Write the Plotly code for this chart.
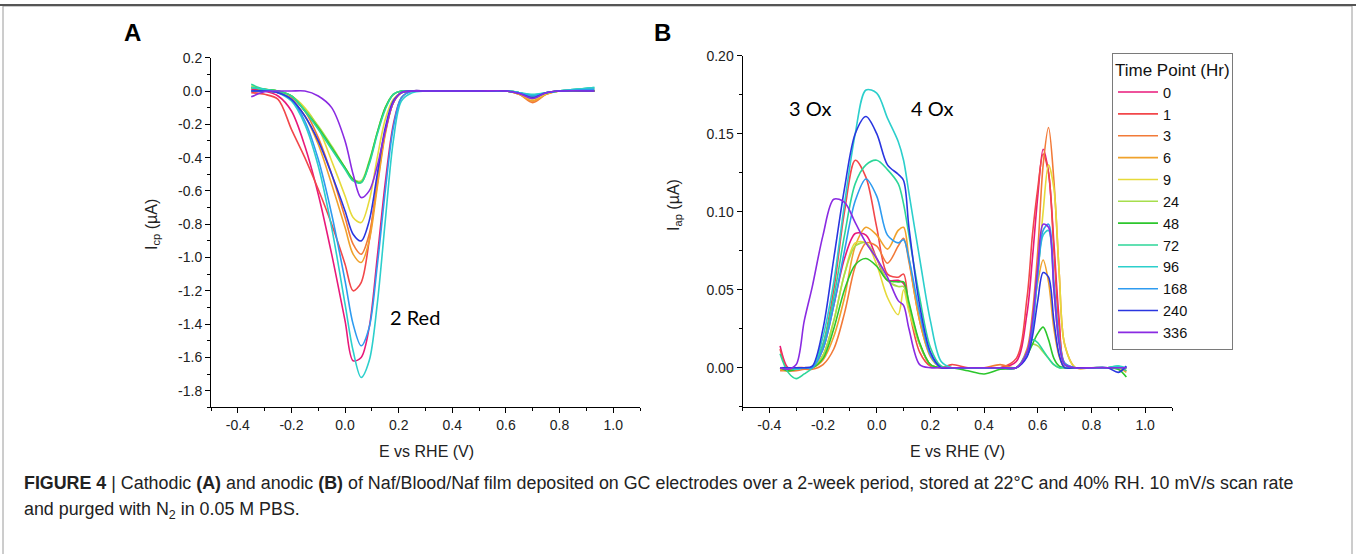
import plotly.graph_objects as go

W, H = 1356, 554

# ---------------- data ----------------
time_points = ["0", "1", "3", "6", "9", "24", "48", "72", "96", "168", "240", "336"]
colors = ["#E8197A", "#F2474A", "#F27A38", "#F0A22C", "#E6DA3A", "#A6DE4C",
          "#2CC62C", "#2CD699", "#2CCFCC", "#2E9BF0", "#2A36E0", "#8A2BE2"]

# Panel A (cathodic)
xa = [-0.35, -0.3, -0.25, -0.2, -0.15, -0.1, -0.05, 0.0, 0.03, 0.06, 0.09, 0.12,
      0.15, 0.18, 0.21, 0.25, 0.3, 0.4, 0.5, 0.6, 0.65, 0.7, 0.75, 0.8, 0.93]
a_0 = [0.01, 0.0, -0.03, -0.12, -0.33, -0.62, -0.98, -1.38, -1.62, -1.6, -1.42, -1.0,
       -0.55, -0.2, -0.04, 0.0, 0.0, 0.0, 0.0, 0.0, -0.015, -0.045, -0.01, 0.0, 0.0]
a_1 = [-0.01, -0.02, -0.05, -0.23, -0.4, -0.59, -0.8, -1.04, -1.2, -1.15, -0.9, -0.55,
       -0.24, -0.07, -0.01, 0.0, 0.0, 0.0, 0.0, 0.0, -0.02, -0.06, -0.015, 0.0, 0.0]
a_3 = [0.0, 0.0, -0.01, -0.04, -0.12, -0.28, -0.5, -0.76, -0.92, -0.98, -0.86, -0.56,
       -0.25, -0.07, -0.01, 0.0, 0.0, 0.0, 0.0, 0.0, -0.02, -0.07, -0.02, 0.0, 0.0]
a_6 = [0.0, 0.0, -0.01, -0.05, -0.15, -0.32, -0.56, -0.82, -0.98, -1.03, -0.9, -0.58,
       -0.26, -0.07, -0.01, 0.0, 0.0, 0.0, 0.0, 0.0, -0.02, -0.06, -0.02, 0.0, 0.0]
a_9 = [0.02, 0.01, 0.0, -0.03, -0.1, -0.22, -0.42, -0.63, -0.76, -0.79, -0.66, -0.4,
       -0.17, -0.05, -0.01, 0.0, 0.0, 0.0, 0.0, 0.0, -0.015, -0.05, -0.015, 0.0, 0.0]
a_24 = [0.03, 0.01, 0.0, -0.03, -0.11, -0.21, -0.33, -0.46, -0.53, -0.54, -0.42, -0.25,
        -0.1, -0.02, 0.0, 0.0, 0.0, 0.0, 0.0, 0.0, -0.01, -0.03, -0.01, 0.0, 0.01]
a_48 = [0.02, 0.01, 0.0, -0.03, -0.12, -0.22, -0.34, -0.46, -0.53, -0.55, -0.43, -0.25,
        -0.1, -0.02, 0.0, 0.0, 0.0, 0.0, 0.0, 0.0, -0.01, -0.03, -0.01, 0.0, 0.0]
a_72 = [0.04, 0.01, 0.0, -0.03, -0.12, -0.23, -0.35, -0.47, -0.54, -0.55, -0.44, -0.26,
        -0.11, -0.02, 0.0, 0.0, 0.0, 0.0, 0.0, 0.0, -0.01, -0.025, -0.01, 0.0, 0.02]
a_96 = [0.02, 0.01, -0.01, -0.06, -0.2, -0.45, -0.82, -1.28, -1.56, -1.72, -1.62, -1.28,
        -0.78, -0.3, -0.06, -0.01, 0.0, 0.0, 0.0, 0.0, -0.01, -0.02, -0.01, 0.0, 0.02]
a_168 = [0.0, 0.0, -0.01, -0.05, -0.18, -0.41, -0.74, -1.14, -1.4, -1.53, -1.42, -1.05,
         -0.6, -0.22, -0.04, 0.0, 0.0, 0.0, 0.0, 0.0, -0.01, -0.03, -0.01, 0.0, 0.01]
a_240 = [0.0, 0.0, -0.01, -0.05, -0.15, -0.3, -0.5, -0.72, -0.86, -0.9, -0.78, -0.5,
         -0.22, -0.06, -0.01, 0.0, 0.0, 0.0, 0.0, 0.0, -0.015, -0.04, -0.01, 0.0, 0.0]
a_336 = [-0.035, -0.005, 0.0, 0.0, 0.0, -0.03, -0.1, -0.3, -0.5, -0.64, -0.6, -0.45,
         -0.24, -0.07, -0.01, 0.0, 0.0, 0.0, 0.0, 0.0, -0.015, -0.045, -0.01, 0.0, 0.0]
panel_a = [a_0, a_1, a_3, a_6, a_9, a_24, a_48, a_72, a_96, a_168, a_240, a_336]

# Panel B (anodic)
xb = [-0.36, -0.33, -0.3, -0.27, -0.24, -0.2, -0.16, -0.12, -0.08, -0.04, 0.0, 0.04,
      0.08, 0.1, 0.12, 0.16, 0.2, 0.24, 0.28, 0.34, 0.4, 0.46, 0.52, 0.56, 0.58, 0.6,
      0.62, 0.64, 0.66, 0.68, 0.7, 0.74, 0.8, 0.86, 0.9, 0.93]
b_0 = [0.014, 0.0, 0.0, 0.0, 0.0, 0.012, 0.04, 0.07, 0.086, 0.085, 0.07, 0.056,
       0.056, 0.054, 0.04, 0.015, 0.002, 0.0, 0.0, 0.0, 0.0, 0.0, 0.004, 0.035, 0.07, 0.11,
       0.14, 0.125, 0.08, 0.03, 0.002, 0.0, 0.0, 0.0, 0.0, 0.0]
b_1 = [0.012, -0.001, 0.0, 0.0, 0.0, 0.015, 0.05, 0.1, 0.133, 0.122, 0.09, 0.06,
       0.058, 0.06, 0.038, 0.01, 0.001, 0.0, 0.002, 0.0, 0.0, 0.0, 0.006, 0.045, 0.085, 0.115,
       0.137, 0.125, 0.075, 0.025, 0.003, 0.0, 0.0, 0.0, 0.0, 0.0]
b_3 = [-0.002, -0.002, -0.002, -0.001, -0.001, 0.002, 0.012, 0.035, 0.065, 0.08, 0.078, 0.067,
       0.078, 0.083, 0.068, 0.03, 0.008, 0.001, 0.0, 0.0, 0.0, 0.002, 0.0, 0.012, 0.035, 0.075,
       0.13, 0.154, 0.12, 0.06, 0.015, 0.0, 0.0, 0.0, 0.0, -0.002]
b_6 = [-0.001, -0.002, -0.001, 0.0, 0.0, 0.005, 0.02, 0.045, 0.078, 0.09, 0.085, 0.076,
       0.088, 0.09, 0.07, 0.03, 0.007, 0.0, 0.0, 0.0, 0.0, 0.0, 0.0, 0.01, 0.03, 0.055,
       0.069, 0.055, 0.025, 0.007, 0.0, 0.0, 0.0, 0.0, 0.0, -0.003]
b_9 = [0.0, 0.0, 0.0, 0.0, 0.0, 0.008, 0.03, 0.06, 0.08, 0.08, 0.066, 0.045,
       0.034, 0.05, 0.036, 0.015, 0.002, 0.0, 0.0, 0.0, 0.0, 0.0, 0.0, 0.008, 0.025, 0.06,
       0.1, 0.13, 0.115, 0.06, 0.015, 0.0, 0.0, 0.0, 0.0, 0.0]
b_24 = [0.0, 0.0, 0.0, 0.0, 0.0, 0.008, 0.03, 0.06, 0.078, 0.08, 0.07, 0.056,
        0.052, 0.052, 0.04, 0.015, 0.002, 0.0, 0.0, 0.0, 0.0, 0.0, 0.0, 0.008, 0.015, 0.014,
        0.01, 0.006, 0.002, 0.0, 0.0, 0.0, 0.0, 0.0, 0.0, 0.0]
b_48 = [0.0, -0.002, -0.001, 0.0, 0.0, 0.006, 0.025, 0.05, 0.066, 0.07, 0.065, 0.056,
        0.055, 0.055, 0.042, 0.016, 0.002, 0.0, 0.0, -0.002, -0.004, -0.001, 0.0, 0.008, 0.015, 0.022,
        0.026, 0.018, 0.006, 0.001, 0.0, 0.0, 0.0, 0.0, -0.001, -0.006]
b_72 = [0.009, -0.003, -0.007, -0.004, 0.0, 0.015, 0.045, 0.085, 0.118, 0.13, 0.133, 0.127,
        0.118, 0.105, 0.085, 0.045, 0.013, 0.001, 0.0, 0.0, 0.0, 0.0, 0.0, 0.01, 0.018, 0.016,
        0.011, 0.006, 0.002, 0.0, 0.0, 0.0, 0.0, 0.0, 0.001, -0.002]
b_96 = [0.0, 0.0, -0.001, 0.0, 0.0, 0.02, 0.055, 0.105, 0.15, 0.178, 0.176, 0.16,
        0.145, 0.133, 0.112, 0.07, 0.03, 0.004, 0.0, 0.0, 0.0, 0.0, 0.0, 0.01, 0.028, 0.06,
        0.085, 0.088, 0.05, 0.015, 0.002, 0.0, 0.0, 0.0, 0.001, 0.0]
b_168 = [0.0, 0.0, 0.0, 0.0, 0.0, 0.012, 0.04, 0.075, 0.107, 0.121, 0.11, 0.085,
         0.08, 0.082, 0.07, 0.035, 0.008, 0.0, 0.0, 0.0, 0.0, 0.0, 0.0, 0.008, 0.025, 0.06,
         0.088, 0.092, 0.055, 0.018, 0.003, 0.0, 0.0, 0.0, 0.0, 0.0]
b_240 = [0.0, 0.0, 0.0, 0.0, 0.001, 0.025, 0.07, 0.115, 0.15, 0.161, 0.15, 0.13,
         0.124, 0.12, 0.09, 0.04, 0.01, 0.0, 0.0, 0.0, 0.0, 0.0, 0.0, 0.007, 0.02, 0.043,
         0.061, 0.058, 0.03, 0.008, 0.0, 0.0, 0.0, 0.0, -0.003, 0.001]
b_336 = [0.0, -0.001, 0.002, 0.03, 0.052, 0.085, 0.108, 0.106, 0.093, 0.08, 0.07, 0.058,
         0.043, 0.04, 0.025, 0.002, 0.0, 0.0, 0.0, 0.0, 0.0, 0.0, 0.0, 0.01, 0.03, 0.065,
         0.092, 0.09, 0.05, 0.015, 0.002, 0.0, 0.0, 0.0, 0.0, 0.0]
panel_b = [b_0, b_1, b_3, b_6, b_9, b_24, b_48, b_72, b_96, b_168, b_240, b_336]

# tick labels
x_tickvals = [-0.4, -0.2, 0.0, 0.2, 0.4, 0.6, 0.8, 1.0]
x_ticktext = ["-0.4", "-0.2", "0.0", "0.2", "0.4", "0.6", "0.8", "1.0"]
ya_tickvals = [0.2, 0.0, -0.2, -0.4, -0.6, -0.8, -1.0, -1.2, -1.4, -1.6, -1.8]
ya_ticktext = ["0.2", "0.0", "-0.2", "-0.4", "-0.6", "-0.8", "-1.0", "-1.2", "-1.4", "-1.6", "-1.8"]
yb_tickvals = [0.0, 0.05, 0.10, 0.15, 0.20]
yb_ticktext = ["0.00", "0.05", "0.10", "0.15", "0.20"]

# ---------------- figure ----------------
def px(x):
    return x / W


def py(y):
    return 1 - y / H


fig = go.Figure()
for name, col, ya_vals in zip(time_points, colors, panel_a):
    fig.add_trace(go.Scatter(x=xa, y=ya_vals, mode="lines", name=name, legendgroup=name,
                             showlegend=False, xaxis="x", yaxis="y",
                             line=dict(color=col, width=1.6, shape="spline", smoothing=0.9)))
for name, col, yb_vals in zip(time_points, colors, panel_b):
    fig.add_trace(go.Scatter(x=xb, y=yb_vals, mode="lines", name=name, legendgroup=name,
                             showlegend=True, xaxis="x2", yaxis="y2",
                             line=dict(color=col, width=1.6, shape="spline", smoothing=0.9)))

tickfont = dict(family="Liberation Sans, Arial, sans-serif", size=14, color="#222")
axis_common = dict(showline=True, linecolor="black", linewidth=1, ticks="outside",
                   ticklen=5, tickwidth=1, tickcolor="black", showgrid=False,
                   zeroline=False, tickfont=tickfont, automargin=False, fixedrange=True)

fig.update_layout(
    width=W, height=H,
    margin=dict(l=0, r=0, t=0, b=0),
    paper_bgcolor="white", plot_bgcolor="white",
    template="none",
    xaxis=dict(domain=[px(211), px(640)], range=[-0.5, 1.1], anchor="y",
               tickmode="array", tickvals=x_tickvals, ticktext=x_ticktext,
               minor=dict(ticks="outside", ticklen=3, tick0=-0.5, dtick=0.1,
                          tickcolor="black", showgrid=False), **axis_common),
    yaxis=dict(domain=[py(407.4), py(57.7)], range=[-1.9, 0.2], anchor="x",
               tickmode="array", tickvals=ya_tickvals, ticktext=ya_ticktext,
               minor=dict(ticks="outside", ticklen=3, tick0=-1.9, dtick=0.1,
                          tickcolor="black", showgrid=False), **axis_common),
    xaxis2=dict(domain=[px(742.5), px(1172)], range=[-0.5, 1.1], anchor="y2",
                tickmode="array", tickvals=x_tickvals, ticktext=x_ticktext,
                minor=dict(ticks="outside", ticklen=3, tick0=-0.5, dtick=0.1,
                           tickcolor="black", showgrid=False), **axis_common),
    yaxis2=dict(domain=[py(406.7), py(55.7)], range=[-0.025, 0.2], anchor="x2",
                tickmode="array", tickvals=yb_tickvals, ticktext=yb_ticktext,
                minor=dict(ticks="outside", ticklen=3, tick0=-0.025, dtick=0.025,
                           tickcolor="black", showgrid=False), **axis_common),
    legend=dict(x=px(1112), y=py(53), xanchor="left", yanchor="top",
                bgcolor="white", bordercolor="#7a7a7a", borderwidth=1,
                itemwidth=40,
                font=dict(family="Liberation Sans, Arial, sans-serif", size=14.5, color="#111"),
                title=dict(text="Time Point (Hr)",
                           font=dict(family="Liberation Sans, Arial, sans-serif", size=17,
                                     color="#111")),
                traceorder="normal", tracegroupgap=0),
    showlegend=True,
)

lab_font = dict(family="Liberation Sans, Arial, sans-serif", size=16, color="#222")
ann = [
    dict(text="<b>A</b>", x=px(132), y=py(33), font=dict(family="Liberation Sans, Arial", size=24, color="black")),
    dict(text="<b>B</b>", x=px(662), y=py(33), font=dict(family="Liberation Sans, Arial", size=24, color="black")),
    dict(text="E vs RHE (V)", x=px(426), y=py(451), font=lab_font),
    dict(text="E vs RHE (V)", x=px(957), y=py(451), font=lab_font),
    dict(text="I<sub>cp</sub> (µA)", x=px(152), y=py(225), font=lab_font, textangle=-90),
    dict(text="I<sub>ap</sub> (µA)", x=px(675), y=py(205), font=lab_font, textangle=-90),
]
for a in ann:
    a.update(xref="paper", yref="paper", showarrow=False, xanchor="center", yanchor="middle")
    fig.add_annotation(**a)

peak_font = dict(family="Lato, sans-serif", size=20, color="black")
fig.add_annotation(text="2 Red", x=0.262, y=-1.357, xref="x", yref="y", showarrow=False, font=peak_font)
fig.add_annotation(text="3 Ox", x=-0.248, y=0.1665, xref="x2", yref="y2", showarrow=False, font=peak_font)
fig.add_annotation(text="4 Ox", x=0.205, y=0.1665, xref="x2", yref="y2", showarrow=False, font=peak_font)

cap_font = dict(family="Liberation Sans, Arial, sans-serif", size=17.85, color="#222")
fig.add_annotation(text="<b>FIGURE 4</b> | Cathodic <b>(A)</b> and anodic <b>(B)</b> of Naf/Blood/Naf film "
                        "deposited on GC electrodes over a 2-week period, stored at 22°C and 40% RH. "
                        "10 mV/s scan rate",
                   x=px(22), y=py(483), xref="paper", yref="paper", xanchor="left",
                   yanchor="middle", showarrow=False, font=cap_font)
fig.add_annotation(text="and purged with N<sub>2</sub> in 0.05 M PBS.",
                   x=px(22), y=py(510), xref="paper", yref="paper", xanchor="left",
                   yanchor="middle", showarrow=False, font=cap_font)

# outer frame
fig.add_shape(type="rect", xref="paper", yref="paper", x0=px(3), x1=px(1352), y0=py(560), y1=py(6),
              line=dict(color="#9a9a9a", width=1), fillcolor="rgba(0,0,0,0)", layer="below")
fig.add_shape(type="line", xref="paper", yref="paper", x0=px(0), x1=px(1356), y0=py(5), y1=py(5),
              line=dict(color="#555555", width=2))

fig.write_html("out.html", config={"displayModeBar": False},
               post_script="document.body.style.margin='0px';document.body.style.overflow='hidden';")
